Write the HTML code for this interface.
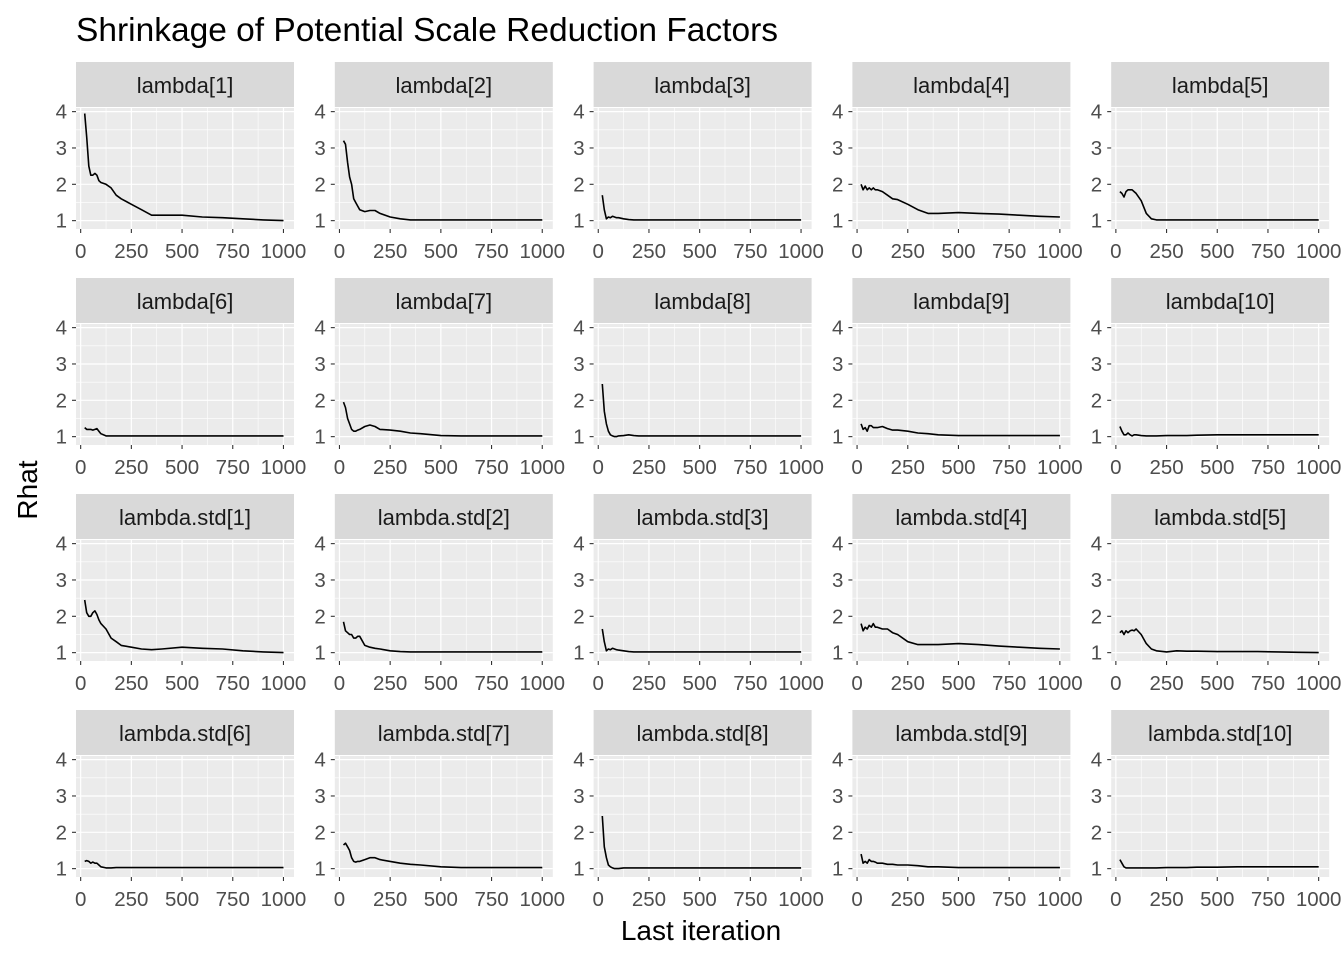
<!DOCTYPE html>
<html><head><meta charset="utf-8"><style>
body{margin:0;background:#fff}
svg text{font-family:"Liberation Sans",Arial,sans-serif}
</style></head><body>
<svg id="chart" width="1344" height="960" viewBox="0 0 1344 960" xmlns="http://www.w3.org/2000/svg">
<rect width="1344" height="960" fill="#fff"/>
<text x="76" y="41" font-size="33.5" fill="#000">Shrinkage of Potential Scale Reduction Factors</text>
<text transform="translate(37,490) rotate(-90)" text-anchor="middle" font-size="28" fill="#000">Rhat</text>
<text x="701" y="940" text-anchor="middle" font-size="28" fill="#000">Last iteration</text>
<g id="panels"></g>
</svg>
<script>
const iters = [20,30,40,50,60,70,80,90,100,125,150,175,200,250,300,350,400,500,600,700,800,900,1000];
const panelNames = ["lambda[1]","lambda[2]","lambda[3]","lambda[4]","lambda[5]","lambda[6]","lambda[7]","lambda[8]","lambda[9]","lambda[10]",
"lambda.std[1]","lambda.std[2]","lambda.std[3]","lambda.std[4]","lambda.std[5]","lambda.std[6]","lambda.std[7]","lambda.std[8]","lambda.std[9]","lambda.std[10]"];
const xTicks = [0,250,500,750,1000];
const yTicks = [1,2,3,4];
const rhat = [
[3.95,3.3,2.5,2.25,2.25,2.3,2.25,2.1,2.05,2.0,1.9,1.7,1.6,1.45,1.3,1.15,1.15,1.15,1.1,1.08,1.05,1.02,1.0],
[3.2,3.1,2.6,2.2,2.0,1.6,1.5,1.4,1.3,1.25,1.28,1.28,1.2,1.1,1.05,1.02,1.02,1.02,1.02,1.02,1.02,1.02,1.02],
[1.7,1.3,1.05,1.1,1.08,1.12,1.1,1.08,1.08,1.05,1.03,1.02,1.02,1.02,1.02,1.02,1.02,1.02,1.02,1.02,1.02,1.02,1.02],
[2.0,1.85,1.95,1.85,1.9,1.85,1.9,1.85,1.85,1.8,1.7,1.6,1.58,1.45,1.3,1.2,1.2,1.22,1.2,1.18,1.15,1.12,1.1],
[1.8,1.75,1.65,1.8,1.85,1.85,1.85,1.8,1.75,1.55,1.2,1.05,1.02,1.02,1.02,1.02,1.02,1.02,1.02,1.02,1.02,1.02,1.02],
[1.25,1.2,1.2,1.2,1.18,1.2,1.22,1.15,1.08,1.02,1.02,1.02,1.02,1.02,1.02,1.02,1.02,1.02,1.02,1.02,1.02,1.02,1.02],
[1.95,1.8,1.5,1.35,1.2,1.15,1.15,1.18,1.2,1.28,1.32,1.28,1.2,1.18,1.15,1.1,1.08,1.03,1.02,1.02,1.02,1.02,1.02],
[2.45,1.7,1.35,1.15,1.05,1.02,1.0,1.0,1.02,1.03,1.05,1.03,1.02,1.02,1.02,1.02,1.02,1.02,1.02,1.02,1.02,1.02,1.02],
[1.35,1.2,1.25,1.15,1.3,1.3,1.25,1.25,1.25,1.28,1.22,1.18,1.18,1.15,1.1,1.08,1.05,1.03,1.03,1.03,1.03,1.03,1.03],
[1.28,1.15,1.05,1.05,1.1,1.05,1.02,1.05,1.05,1.03,1.02,1.02,1.02,1.03,1.03,1.03,1.04,1.05,1.05,1.05,1.05,1.05,1.05],
[2.45,2.1,2.0,2.0,2.1,2.15,2.05,1.9,1.8,1.65,1.4,1.3,1.2,1.15,1.1,1.08,1.1,1.15,1.12,1.1,1.05,1.02,1.0],
[1.85,1.6,1.55,1.5,1.5,1.4,1.4,1.45,1.45,1.2,1.15,1.12,1.1,1.05,1.03,1.02,1.02,1.02,1.02,1.02,1.02,1.02,1.02],
[1.65,1.3,1.05,1.1,1.08,1.12,1.1,1.08,1.07,1.05,1.03,1.02,1.02,1.02,1.02,1.02,1.02,1.02,1.02,1.02,1.02,1.02,1.02],
[1.8,1.6,1.7,1.65,1.75,1.7,1.8,1.7,1.7,1.65,1.65,1.55,1.5,1.3,1.22,1.22,1.22,1.25,1.22,1.18,1.15,1.12,1.1],
[1.55,1.6,1.5,1.6,1.55,1.6,1.62,1.6,1.65,1.5,1.25,1.1,1.05,1.02,1.05,1.04,1.04,1.03,1.03,1.03,1.02,1.01,1.0],
[1.2,1.22,1.2,1.15,1.18,1.15,1.15,1.1,1.05,1.02,1.02,1.03,1.03,1.03,1.03,1.03,1.03,1.03,1.03,1.03,1.03,1.03,1.03],
[1.65,1.7,1.6,1.5,1.3,1.2,1.18,1.2,1.2,1.25,1.3,1.3,1.25,1.2,1.15,1.12,1.1,1.05,1.03,1.03,1.03,1.03,1.03],
[2.45,1.6,1.3,1.1,1.05,1.02,1.0,1.0,1.0,1.02,1.02,1.02,1.02,1.02,1.02,1.02,1.02,1.02,1.02,1.02,1.02,1.02,1.02],
[1.4,1.15,1.2,1.15,1.25,1.2,1.2,1.18,1.15,1.15,1.12,1.12,1.1,1.1,1.08,1.05,1.05,1.03,1.03,1.03,1.03,1.03,1.03],
[1.25,1.15,1.05,1.02,1.02,1.02,1.02,1.02,1.02,1.02,1.02,1.02,1.02,1.03,1.03,1.03,1.04,1.04,1.05,1.05,1.05,1.05,1.05]
];
const NS="http://www.w3.org/2000/svg";
const root=document.getElementById('panels');
function mk(tag,attrs,parent){const e=document.createElementNS(NS,tag);for(const k in attrs)e.setAttribute(k,attrs[k]);parent.appendChild(e);return e;}
const PW=218, SH=45, PH=121;
const xMin=-23, xMax=1052, yMin=0.77, yMax=4.1;
for(let i=0;i<panelNames.length;i++){
  const r=Math.floor(i/5), c=i%5;
  const px=76+c*258.8, sy=62+r*216, py=sy+SH+1;
  const X=v=>px+(v-xMin)/(xMax-xMin)*PW;
  const Y=v=>py+PH-(v-yMin)/(yMax-yMin)*PH;
  const g=mk('g',{},root);
  
  
  const strip=mk('rect',{x:px,y:sy,width:PW,height:SH,fill:'#D9D9D9'},g);
  
  
  const st=mk('text',{x:px+PW/2,y:sy+31,'text-anchor':'middle','font-size':22,fill:'#1A1A1A'},g);
  st.textContent=panelNames[i];
  
  
  const bg=mk('rect',{x:px,y:py,width:PW,height:PH,fill:'#EBEBEB'},g);
  
  
  for(let k=0;k<xTicks.length-1;k++){const m=(xTicks[k]+xTicks[k+1])/2;mk('line',{x1:X(m),x2:X(m),y1:py,y2:py+PH,stroke:'#fff','stroke-width':0.6},g);}
  for(let k=0;k<yTicks.length-1;k++){const m=(yTicks[k]+yTicks[k+1])/2;mk('line',{x1:px,x2:px+PW,y1:Y(m),y2:Y(m),stroke:'#fff','stroke-width':0.6},g);}
  xTicks.forEach(t=>{
    mk('line',{x1:X(t),x2:X(t),y1:py,y2:py+PH,stroke:'#fff','stroke-width':1.2},g);
    mk('line',{x1:X(t),x2:X(t),y1:py+PH,y2:py+PH+4,stroke:'#333','stroke-width':1.1},g);
    const tl=mk('text',{x:X(t),y:py+PH+29,'text-anchor':'middle','font-size':20.5,fill:'#4D4D4D'},g);
    tl.textContent=t;
    
    
  });
  yTicks.forEach(t=>{
    mk('line',{x1:px,x2:px+PW,y1:Y(t),y2:Y(t),stroke:'#fff','stroke-width':1.2},g);
    mk('line',{x1:px-4,x2:px,y1:Y(t),y2:Y(t),stroke:'#333','stroke-width':1.1},g);
    const tl=mk('text',{x:px-9,y:Y(t)+7,'text-anchor':'end','font-size':20.5,fill:'#4D4D4D'},g);
    tl.textContent=t;
    
    
  });
  const d=iters.map((v,k)=>(k?'L':'M')+X(v).toFixed(1)+','+Y(rhat[i][k]).toFixed(1)).join(' ');
  const ln=mk('path',{d:d,fill:'none',stroke:'#000','stroke-width':1.6,'stroke-linejoin':'round'},g);
  
  
}
</script>
</body></html>
